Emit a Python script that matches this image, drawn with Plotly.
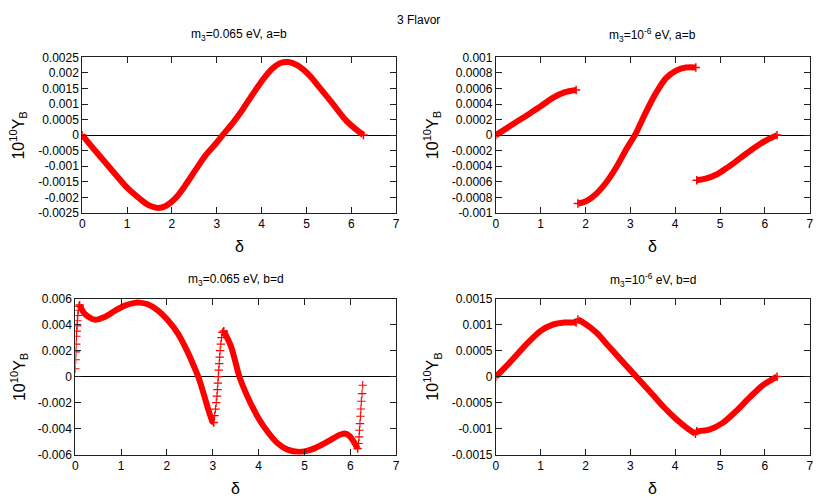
import plotly.graph_objects as go

# ---------------- data ----------------
# Panel 1: m3=0.065 eV, a=b
delta_tl = [0.0, 0.30, 0.68, 1.0, 1.27, 1.49, 1.68, 1.86, 2.09, 2.31, 2.53, 2.75, 2.98, 3.13,
            3.35, 3.57, 3.79, 4.02, 4.24, 4.42, 4.60, 4.80, 5.06, 5.28, 5.58, 5.87, 6.09, 6.27]
yb_tl = [0.0, -0.00052, -0.00116, -0.00169, -0.00203, -0.00226, -0.00234, -0.00228, -0.00201,
         -0.00159, -0.00111, -0.00065, -0.00027, 0.0, 0.00038, 0.00081, 0.00129, 0.00177,
         0.00214, 0.00232, 0.00235, 0.00224, 0.00193, 0.00155, 0.00102, 0.00049, 0.0002, 0.0]

# Panel 2: m3=1e-6 eV, a=b (three branches)
delta_tr_1 = [0.0, 0.30, 0.68, 1.0, 1.27, 1.53, 1.79]
yb_tr_1 = [0.0, 0.00011, 0.00025, 0.00037, 0.00048, 0.00055, 0.00058]
delta_tr_2 = [1.83, 2.01, 2.23, 2.46, 2.68, 2.90, 3.12, 3.35, 3.57, 3.79, 4.02, 4.24, 4.46]
yb_tr_2 = [-0.00088, -0.00085, -0.00076, -0.00061, -0.00042, -0.00019, 0.00002, 0.0003,
           0.00054, 0.00073, 0.00083, 0.00087, 0.00087]
delta_tr_3 = [4.48, 4.68, 4.91, 5.13, 5.35, 5.58, 5.80, 6.02, 6.27]
yb_tr_3 = [-0.00058, -0.00056, -0.00051, -0.00043, -0.00034, -0.00024, -0.00015, -0.00007, 0.0]

# Panel 3: m3=0.065 eV, b=d
delta_bl_sparse_1 = [0.0, 0.01, 0.015, 0.02, 0.025, 0.03, 0.04, 0.045, 0.055, 0.065, 0.08]
yb_bl_sparse_1 = [0.0006, 0.0013, 0.0019, 0.0025, 0.0031, 0.0035, 0.0039, 0.0043, 0.0047,
                  0.0051, 0.0054]
delta_bl_1 = [0.095, 0.2, 0.42, 0.64, 0.86, 1.08, 1.29, 1.40, 1.58, 1.80, 2.02, 2.24, 2.45,
              2.64, 2.71, 2.82, 2.93, 3.0, 3.02]
yb_bl_1 = [0.0055, 0.00485, 0.00438, 0.00459, 0.00505, 0.00546, 0.00567, 0.00569, 0.00556,
           0.0051, 0.00433, 0.00331, 0.0019, 0.00036, -0.00028, -0.00156, -0.00285,
           -0.00349, -0.00354]
delta_bl_sparse_2 = [3.04, 3.06, 3.075, 3.09, 3.10, 3.11, 3.12, 3.13, 3.14, 3.15, 3.16,
                     3.175, 3.19, 3.21]
yb_bl_sparse_2 = [-0.003, -0.0025, -0.002, -0.0015, -0.001, -0.0005, 0.0, 0.0005, 0.001,
                  0.0015, 0.002, 0.0025, 0.003, 0.0034]
delta_bl_2 = [3.24, 3.40, 3.58, 3.76, 3.98, 4.20, 4.42, 4.63, 4.89, 5.14, 5.36, 5.58, 5.72,
              5.87, 5.98, 6.09, 6.16]
yb_bl_2 = [0.0035, 0.0023, 0.0, -0.00156, -0.0031, -0.00426, -0.00515, -0.00562, -0.0058,
           -0.00562, -0.00528, -0.00485, -0.00456, -0.00438, -0.00456, -0.0051, -0.00554]
delta_bl_sparse_3 = [6.18, 6.19, 6.20, 6.21, 6.22, 6.23, 6.24, 6.255, 6.27]
yb_bl_sparse_3 = [-0.00515, -0.00464, -0.00413, -0.00362, -0.00305, -0.00249, -0.0019,
                  -0.00131, -0.00067]

# Panel 4: m3=1e-6 eV, b=d
delta_br_1 = [0.0, 0.30, 0.68, 1.0, 1.27, 1.53, 1.79]
yb_br_1 = [0.0, 0.00026, 0.00062, 0.00088, 0.001, 0.00104, 0.00104]
delta_br_2 = [1.83, 2.0, 2.25, 2.5, 2.75, 3.13, 3.5, 3.75, 4.0, 4.25, 4.45]
yb_br_2 = [0.0011, 0.00101, 0.00084, 0.0006, 0.00036, 0.0, -0.00035, -0.00059, -0.0008,
           -0.00098, -0.0011]
delta_br_3 = [4.48, 4.76, 5.06, 5.35, 5.65, 5.95, 6.27]
yb_br_3 = [-0.00105, -0.00102, -0.00089, -0.00067, -0.00041, -0.00017, 0.0]

# axis ticks
x_ticks = [0, 1, 2, 3, 4, 5, 6, 7]
x_tick_text = ["0", "1", "2", "3", "4", "5", "6", "7"]
y_ticks_tl = [-0.0025, -0.002, -0.0015, -0.001, -0.0005, 0, 0.0005, 0.001, 0.0015, 0.002, 0.0025]
y_text_tl = ["-0.0025", "-0.002", "-0.0015", "-0.001", "-0.0005", "0", "0.0005", "0.001",
             "0.0015", "0.002", "0.0025"]
y_ticks_tr = [-0.001, -0.0008, -0.0006, -0.0004, -0.0002, 0, 0.0002, 0.0004, 0.0006, 0.0008, 0.001]
y_text_tr = ["-0.001", "-0.0008", "-0.0006", "-0.0004", "-0.0002", "0", "0.0002", "0.0004",
             "0.0006", "0.0008", "0.001"]
y_ticks_bl = [-0.006, -0.004, -0.002, 0, 0.002, 0.004, 0.006]
y_text_bl = ["-0.006", "-0.004", "-0.002", "0", "0.002", "0.004", "0.006"]
y_ticks_br = [-0.0015, -0.001, -0.0005, 0, 0.0005, 0.001, 0.0015]
y_text_br = ["-0.0015", "-0.001", "-0.0005", "0", "0.0005", "0.001", "0.0015"]

titles = ["m<sub>3</sub>=0.065 eV, a=b", "m<sub>3</sub>=10<sup>-6</sup> eV, a=b",
          "m<sub>3</sub>=0.065 eV, b=d", "m<sub>3</sub>=10<sup>-6</sup> eV, b=d"]
main_title = "3 Flavor"
x_label = "δ"
y_label = "10<sup>10</sup>Y<sub>B</sub>"

# ---------------- figure ----------------
RED = "#ff0000"
FONT = "Liberation Sans, Arial, sans-serif"
W, H = 830, 498
# measured mapping between page pixels and the photographed picture
OX, SX = 9.5, 0.995
OY, SY = 13.5, 0.975


def px(x):
    return (x - OX) / SX / W


def py(y, min_page=0.0):
    return 1 - max((y - OY) / SY, min_page) / H


fig = go.Figure()


def add_line(x, y, ax):
    fig.add_trace(go.Scatter(x=x, y=y, mode="lines", xaxis="x" + ax, yaxis="y" + ax,
                             line=dict(color=RED, width=6, shape="spline", smoothing=0.8),
                             hoverinfo="skip", showlegend=False))
    fig.add_trace(go.Scatter(x=[x[0], x[-1]], y=[y[0], y[-1]], mode="markers",
                             xaxis="x" + ax, yaxis="y" + ax,
                             marker=dict(symbol="cross-thin", size=6, color=RED,
                                         line=dict(color=RED, width=1.5)),
                             hoverinfo="skip", showlegend=False))


def add_markers(x, y, ax):
    fig.add_trace(go.Scatter(x=x, y=y, mode="markers", xaxis="x" + ax, yaxis="y" + ax,
                             marker=dict(symbol="cross-thin", size=6, color=RED,
                                         line=dict(color=RED, width=1.1)),
                             hoverinfo="skip", showlegend=False))


add_line(delta_tl, yb_tl, "")
add_line(delta_tr_1, yb_tr_1, "2")
add_line(delta_tr_2, yb_tr_2, "2")
add_line(delta_tr_3, yb_tr_3, "2")
add_markers(delta_bl_sparse_1, yb_bl_sparse_1, "3")
add_line(delta_bl_1, yb_bl_1, "3")
add_markers(delta_bl_sparse_2, yb_bl_sparse_2, "3")
add_line(delta_bl_2, yb_bl_2, "3")
add_markers(delta_bl_sparse_3, yb_bl_sparse_3, "3")
add_line(delta_br_1, yb_br_1, "4")
add_line(delta_br_2, yb_br_2, "4")
add_line(delta_br_3, yb_br_3, "4")

# target plot areas in picture pixels: (left, right, top, bottom)
boxes = [(81, 396, 56, 212), (496, 811, 56, 212), (74, 396, 298, 454.5), (496, 811, 298, 454.5)]
title_y = [34, 34, 279, 279]
xlabel_y = [246, 246, 489, 489]
yranges = [(-0.0025, 0.0025), (-0.001, 0.001), (-0.006, 0.006), (-0.0015, 0.0015)]
yticks = [(y_ticks_tl, y_text_tl), (y_ticks_tr, y_text_tr), (y_ticks_bl, y_text_bl),
          (y_ticks_br, y_text_br)]

axis_common = dict(showline=True, linecolor="#202020", linewidth=1, mirror="ticks",
                   ticks="inside", ticklen=6, tickcolor="#202020", tickwidth=1,
                   showgrid=False, tickfont=dict(family=FONT, size=12, color="black"))

layout = dict(width=W, height=H, autosize=False, margin=dict(l=0, r=0, t=0, b=0),
              paper_bgcolor="white", plot_bgcolor="white", showlegend=False,
              font=dict(family=FONT, size=12, color="black"))
annotations = []
for i, (l, r, t, b) in enumerate(boxes):
    sfx = "" if i == 0 else str(i + 1)
    layout["xaxis" + sfx] = dict(domain=[px(l), px(r)], range=[0, 7], anchor="y" + sfx,
                                 tickvals=x_ticks, ticktext=x_tick_text, zeroline=False,
                                 **axis_common)
    layout["yaxis" + sfx] = dict(domain=[py(b), py(t)], range=list(yranges[i]),
                                 anchor="x" + sfx, tickvals=yticks[i][0],
                                 ticktext=yticks[i][1], zeroline=True,
                                 zerolinecolor="black", zerolinewidth=1, **axis_common)
    cx = (l + r) / 2
    cy = (t + b) / 2
    annotations.append(dict(text=titles[i], x=px(cx), y=py(title_y[i]), xref="paper",
                            yref="paper", showarrow=False, xanchor="center", yanchor="middle",
                            font=dict(family=FONT, size=12, color="black")))
    annotations.append(dict(text=x_label, x=px(cx), y=py(xlabel_y[i]), xref="paper",
                            yref="paper", showarrow=False, xanchor="center", yanchor="middle",
                            font=dict(family=FONT, size=16, color="black")))
    lx = 17 if i in (0, 2) else 432
    annotations.append(dict(text=y_label, x=px(lx), y=py(cy), xref="paper",
                            yref="paper", showarrow=False, xanchor="center", yanchor="middle",
                            textangle=-90, font=dict(family=FONT, size=16, color="black")))

annotations.append(dict(text=main_title, x=px(418), y=py(15, 5.0), xref="paper", yref="paper",
                        showarrow=False, xanchor="center", yanchor="middle",
                        font=dict(family=FONT, size=12, color="black")))
layout["annotations"] = annotations
fig.update_layout(**layout)

fig.write_html("out.html")
